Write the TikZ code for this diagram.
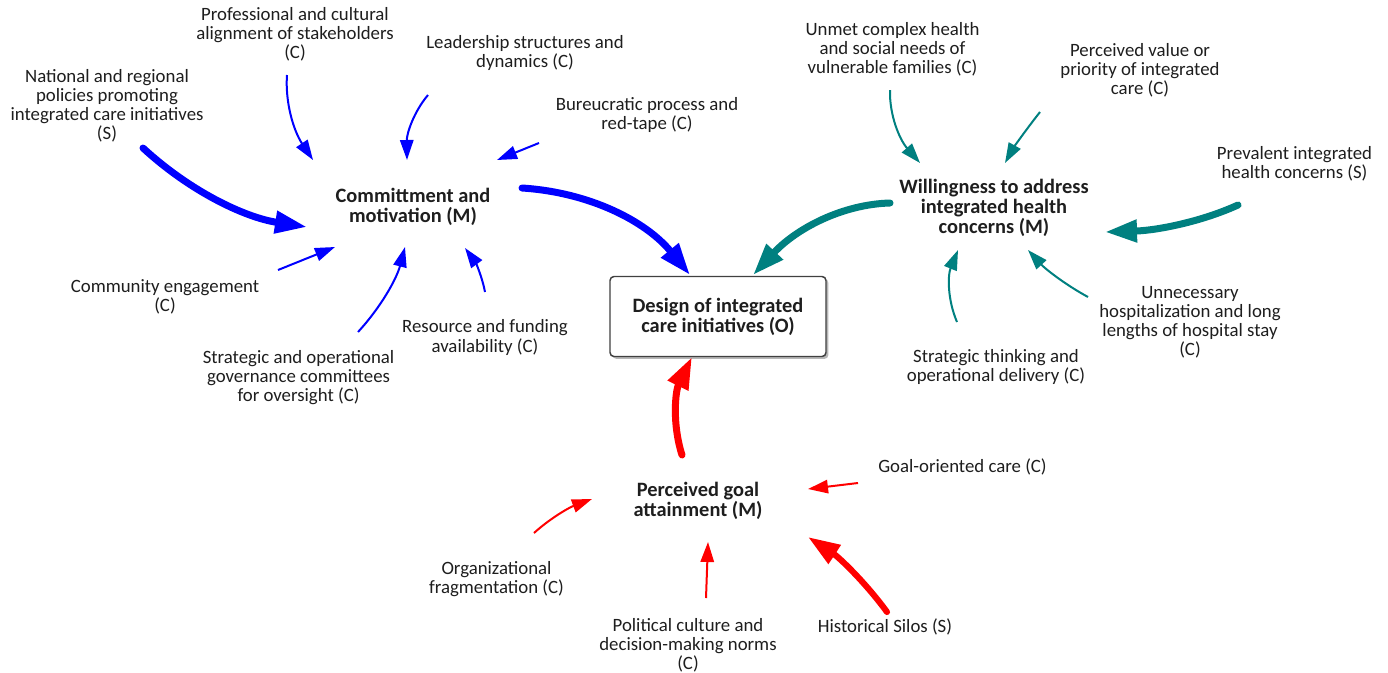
\documentclass[tikz,border=0pt]{standalone}
\usepackage{fontspec}
\setmainfont{Carlito}
\usetikzlibrary{arrows.meta,shadows,calc}
\definecolor{cblue}{RGB}{0,0,255}
\definecolor{cteal}{RGB}{0,128,128}
\definecolor{cred}{RGB}{255,0,0}
\definecolor{ctext}{RGB}{30,30,30}
\definecolor{cbox}{RGB}{64,64,64}

% smooth quadratic-style bend: start, bend point, end
\newcommand\qbend[4][]{%
  \draw[#1] (#2) .. controls ($(#2)!2/3!(#3)$) and ($(#4)!2/3!(#3)$) .. (#4);}

\begin{document}
\begin{tikzpicture}[x=0.75pt,y=-0.75pt,
  lbl/.style={text=ctext, align=center, inner sep=0pt,
              font=\fontsize{14.1}{14.3}\selectfont},
  mech/.style={text=ctext, align=center, inner sep=0pt,
               font=\bfseries\fontsize{15.3}{15}\selectfont},
  outcome/.style={mech, draw=cbox, fill=white, line width=1.1pt,
                  rounded corners=3pt, minimum width=162pt, minimum height=60pt,
                  drop shadow={shadow xshift=1.8pt, shadow yshift=-1.8pt,
                               fill=black!35, opacity=0.8}},
  weak/.style={line width=1.5pt, -{Triangle[length=15pt,width=10pt]}},
  strong/.style={line width=5.25pt, line cap=round,
                 -{Triangle[length=24pt,width=16pt]}},
]
\fill[white] (0,0) rectangle (1388,672);
\useasboundingbox (0,0) rectangle (1388,672);

% ---------- labels ----------
% commitment cluster
\node[lbl] (prof) at (295,34) {Professional and cultural\\alignment of stakeholders\\(C)};
\node[lbl] (lead) at (525,53) {Leadership structures and\\dynamics (C)};
\node[lbl] (nat) at (107,105.5) {National and regional\\policies promoting\\integrated care initiatives\\(S)};
\node[lbl] (bur) at (647,115) {Bureucratic process and\\red-tape (C)};
\node[mech] (com) at (413,207) {Committment and\\motivation (M)};
\node[lbl] (ceng) at (165,297) {Community engagement\\(C)};
\node[lbl] (res) at (485,337.5) {Resource and funding\\availability (C)};
\node[lbl] (sgov) at (298.5,377.5) {Strategic and operational\\governance committees\\for oversight (C)};

% outcome
\node[outcome] (des) at (718,316.5) {Design of integrated\\care initiatives (O)};

% willingness cluster
\node[lbl] (unmet) at (892.5,49) {Unmet complex health\\and social needs of\\vulnerable families (C)};
\node[lbl] (pval) at (1140,70) {Perceived value or\\priority of integrated\\care (C)};
\node[lbl] (prev) at (1294.5,163.5) {Prevalent integrated\\health concerns (S)};
\node[mech] (will) at (994,208) {Willingness to address\\integrated health\\concerns (M)};
\node[lbl] (unnec) at (1190,322) {Unnecessary\\hospitalization and long\\lengths of hospital stay\\(C)};
\node[lbl] (sthink) at (996,367) {Strategic thinking and\\operational delivery (C)};

% goal attainment cluster
\node[lbl] (goal) at (962.5,467) {Goal-oriented care (C)};
\node[mech] (pga) at (698,500.5) {Perceived goal\\attainment (M)};
\node[lbl] (org) at (496.5,579) {Organizational\\fragmentation (C)};
\node[lbl] (pol) at (688,645) {Political culture and\\decision-making norms\\(C)};
\node[lbl] (hist) at (885,627) {Historical Silos (S)};

% ---------- connector ends and bend points ----------
\coordinate (natA) at (143,148);   \coordinate (natQ) at (213,212.5);  \coordinate (natB) at (307,227);
\coordinate (profA) at (287,75);   \coordinate (profQ) at (284,116.5); \coordinate (profB) at (313,160);
\coordinate (leadA) at (428,95);   \coordinate (leadQ) at (406.5,120.5); \coordinate (leadB) at (407,160);
\coordinate (burA) at (539,143);   \coordinate (burB) at (497,160);
\coordinate (comA) at (522,188);   \coordinate (comQ) at (624,194.5);  \coordinate (desNW) at (690,275);
\coordinate (cengA) at (278,270);  \coordinate (cengB) at (335,247);
\coordinate (sgovA) at (358,332);  \coordinate (sgovQ) at (392.5,294.5); \coordinate (sgovB) at (405,247);
\coordinate (resA) at (485,292);   \coordinate (resQ) at (481,270);    \coordinate (resB) at (465,248);

\coordinate (willA) at (890,203);  \coordinate (willQ) at (818.5,205); \coordinate (desNE) at (753,275);
\coordinate (unmetA) at (890,90);  \coordinate (unmetQ) at (889,127.5); \coordinate (unmetB) at (920,163);
\coordinate (pvalA) at (1040,112); \coordinate (pvalQ) at (1017.5,140.5); \coordinate (pvalB) at (1005,163);
\coordinate (prevA) at (1238,205); \coordinate (prevQ) at (1184.5,229.5); \coordinate (prevB) at (1105,232);
\coordinate (sthinkA) at (957,322); \coordinate (sthinkQ) at (942.5,288); \coordinate (sthinkB) at (958,250);
\coordinate (unnecA) at (1088,297); \coordinate (unnecQ) at (1054,278.5); \coordinate (unnecB) at (1028,250);

\coordinate (pgaA) at (682,455);   \coordinate (pgaQ) at (667,408);    \coordinate (desS) at (692,357);
\coordinate (goalA) at (858,483);  \coordinate (goalB) at (808,489);
\coordinate (orgA) at (534,533);   \coordinate (orgQ) at (557,512);    \coordinate (orgB) at (592,499);
\coordinate (polA) at (706,598);   \coordinate (polB) at (708,542);
\coordinate (histA) at (887,612);  \coordinate (histQ) at (854.5,567.5); \coordinate (histB) at (808,537);

% ---------- connectors ----------
\begin{scope}[cblue]
\qbend[strong]{natA}{natQ}{natB}
\qbend[weak]{profA}{profQ}{profB}
\qbend[weak]{leadA}{leadQ}{leadB}
\draw[weak] (burA) -- (burB);
\qbend[strong]{comA}{comQ}{desNW}
\draw[weak] (cengA) -- (cengB);
\qbend[weak]{sgovA}{sgovQ}{sgovB}
\qbend[weak]{resA}{resQ}{resB}
\end{scope}

\begin{scope}[cteal]
\qbend[strong]{willA}{willQ}{desNE}
\qbend[weak]{unmetA}{unmetQ}{unmetB}
\qbend[weak]{pvalA}{pvalQ}{pvalB}
\qbend[strong]{prevA}{prevQ}{prevB}
\qbend[weak]{sthinkA}{sthinkQ}{sthinkB}
\qbend[weak]{unnecA}{unnecQ}{unnecB}
\end{scope}

\begin{scope}[cred]
\qbend[strong]{pgaA}{pgaQ}{desS}
\draw[weak] (goalA) -- (goalB);
\qbend[weak]{orgA}{orgQ}{orgB}
\draw[weak] (polA) -- (polB);
\qbend[strong, line width=4.6pt]{histA}{histQ}{histB}
\end{scope}
\end{tikzpicture}
\end{document}
